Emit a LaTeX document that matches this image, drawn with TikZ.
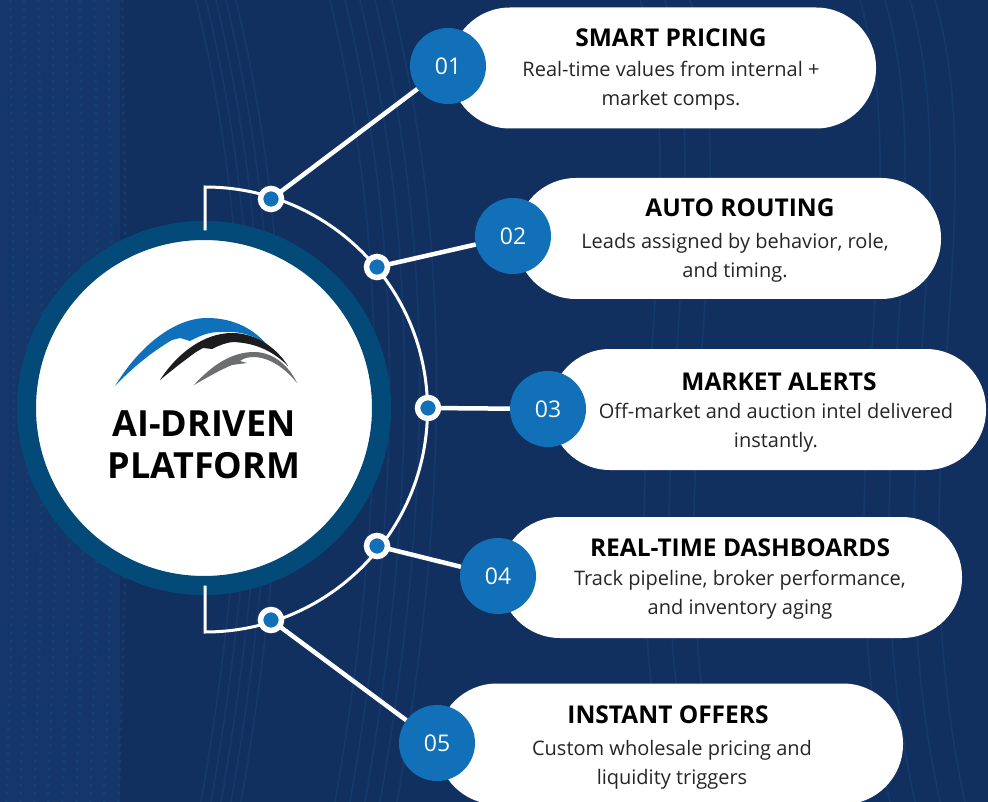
\documentclass[tikz,border=0pt]{standalone}
\usepackage{fontspec}
\setmainfont{Open Sans}
\usepackage{tikz}
\usetikzlibrary{shadings}
\definecolor{navy}{HTML}{12305F}
\definecolor{navylight}{HTML}{1A4A85}
\definecolor{ringblue}{HTML}{034A78}
\definecolor{badgeblue}{HTML}{1170B8}
\definecolor{logoblue}{HTML}{0F70BC}
\definecolor{logoblack}{HTML}{1C1C1E}
\definecolor{logogray}{HTML}{6D6E72}

\begin{document}
\begin{tikzpicture}
  [x=1pt,y=-1pt,
   pill/.style={rectangle,rounded corners=60pt,fill=white,minimum height=121pt,inner sep=0pt,outer sep=0pt},
   badge/.style={circle,fill=badgeblue,text=white,minimum size=76pt,inner sep=0pt,font=\fontsize{23}{27}\selectfont},
   joint/.style={circle,draw=white,fill=badgeblue,line width=5.5pt,minimum size=21pt,inner sep=0pt,outer sep=0pt},
   hub/.style={circle,draw=ringblue,fill=white,line width=19pt,minimum size=355pt,inner sep=0pt,outer sep=0pt},
   heading/.style={font=\fontsize{24.5}{29}\selectfont\bfseries,text=black,inner sep=0pt},
   detail/.style={font=\fontsize{20}{29}\selectfont,text=black!85,align=center,inner sep=0pt},
   hubtext/.style={font=\fontsize{36}{42}\selectfont\bfseries,text=black,align=center,inner sep=0pt},
   spoke/.style={white,line width=4.5pt},
   rail/.style={white,line width=3pt},
   weave/.style={navylight,line width=1.6pt,opacity=.35},
   weavedots/.style={navylight,line width=3pt,opacity=.4,dash pattern=on 3pt off 5pt}]
		\useasboundingbox (0,0) rectangle (988,802);
		\clip (0,0) rectangle (988,802);
		\fill[navy] (0,0) rectangle (988,802);
		\fill[navylight,opacity=.25] (0,0) rectangle (120,802);
		\foreach \x in {10,24,...,122} {
			\draw[weavedots] (\x,0) .. controls (\x+4,260) and (\x+8,520) .. (\x-4,802);
		}
		\foreach \x in {196,206,216,226,236,330,345,360,375,392} {
			\draw[weave] (\x,0) .. controls (\x+45,190) and (\x+70,430) .. (\x+5,802);
		}
		\foreach \x in {640,665,690,860,885,910,935} {
			\draw[weave] (\x,0) .. controls (\x+60,210) and (\x-40,480) .. (\x+30,802);
		}
		\node (hub) [hub] at (204,408) {};
		\node (P1) [pill,minimum width=426pt] at (663,68) {};
		\node (P2) [pill,minimum width=425pt] at (728.5,238.5) {};
		\node (P3) [pill,minimum width=436pt] at (768,409.5) {};
		\node (P4) [pill,minimum width=462pt] at (731,577.5) {};
		\node (P5) [pill,minimum width=466pt] at (670,744) {};
		\node (B1) [badge] at (448,66) {01};
		\node (B2) [badge] at (513,236) {02};
		\node (B3) [badge] at (548,409) {03};
		\node (B4) [badge] at (498,576) {04};
		\node (B5) [badge] at (437,743) {05};
		\node (T1) [heading] at (671,38) {SMART PRICING};
		\node (T2) [heading] at (740,208) {AUTO ROUTING};
		\node (T3) [heading] at (779,382) {MARKET ALERTS};
		\node (T4) [heading] at (740,548) {REAL-TIME DASHBOARDS};
		\node (T5) [heading] at (668,715) {INSTANT OFFERS};
		\node (D1) [detail] at (671,86) {Real-time values from internal +\\market comps.};
		\node (D2) [detail] at (735,258) {Leads assigned by behavior, role,\\and timing.};
		\node (D3) [detail] at (776,428) {Off-market and auction intel delivered\\instantly.};
		\node (D4) [detail] at (740,595) {Track pipeline, broker performance,\\and inventory aging};
		\node (D5) [detail] at (672,765) {Custom wholesale pricing and\\liquidity triggers};
		\node (label) [hubtext] at (204,445) {AI-DRIVEN\\PLATFORM};
		\coordinate (A1) at (205,187);
		\coordinate (A2) at (205,632);
		\draw [rail] (hub.north -| A1) -- (A1) arc[start angle=-90,end angle=90,radius=222.5] -- (hub.south -| A2);
		\node (J1) [joint] at (271,199) {};
		\node (J2) [joint] at (377,267) {};
		\node (J3) [joint] at (428,408) {};
		\node (J4) [joint] at (377,546) {};
		\node (J5) [joint] at (271,620) {};
		\draw [spoke] (J1) -- (B1);
		\draw [spoke] (J2) -- (B2);
		\draw [spoke] (J3) -- (B3);
		\draw [spoke] (J4) -- (B4);
		\draw [spoke] (J5) -- (B5);
		\fill [logoblue] (115,386) .. controls (140,345) and (175,318) .. (207,318) .. controls (235,318) and (255,330) .. (268,346) .. controls (255,335) and (240,331) .. (222,332) .. controls (212,332) and (205,333) .. (190,341) -- (180,338) -- (172,340) .. controls (155,350) and (135,365) .. (115,386) -- cycle;
		\fill [logoblack] (160,380) .. controls (178,352) and (205,333) .. (232,333) .. controls (258,333) and (278,350) .. (288,366) .. controls (275,353) and (258,343) .. (233,342) .. controls (225,343) and (220,345) .. (212,349) -- (203,348) -- (196,352) .. controls (185,360) and (172,370) .. (160,380) -- cycle;
		\fill [logogray] (194,385) .. controls (212,365) and (232,352) .. (254,352) .. controls (275,352) and (290,368) .. (297,383) .. controls (285,368) and (270,358) .. (255,357) .. controls (248,357) and (244,358) .. (240,361) -- (247,363) -- (232,365) .. controls (220,370) and (208,377) .. (194,385) -- cycle;
\end{tikzpicture}
\end{document}
